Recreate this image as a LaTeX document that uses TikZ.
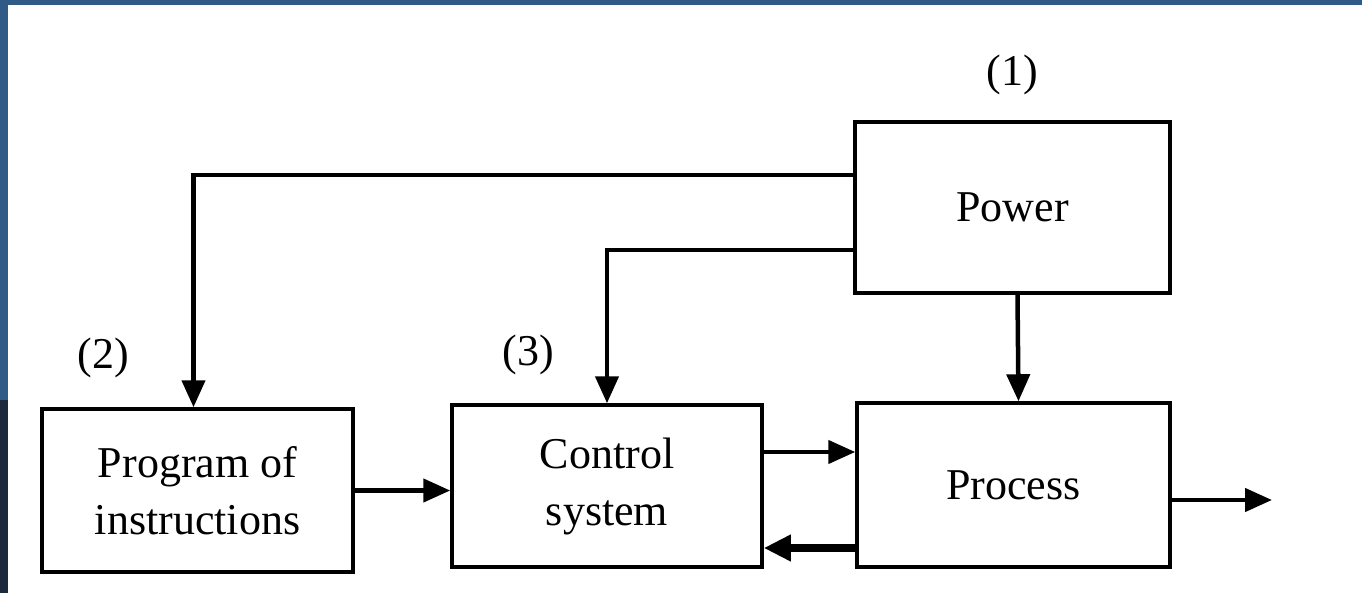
\documentclass[tikz,border=0pt]{standalone}
\usepackage{fontspec}
\setmainfont{Liberation Serif}
\usetikzlibrary{arrows.meta}
\definecolor{frameblue}{HTML}{2F5B86}
\definecolor{framedark}{HTML}{1B2B3D}
\begin{document}
\begin{tikzpicture}[x=1pt,y=-1pt,
  box/.style={draw=black,line width=3.5pt,minimum width=#1,inner sep=0pt,align=center,
    font=\fontsize{44}{57}\selectfont},
  lbl/.style={font=\fontsize{44}{57}\selectfont,inner sep=0pt},
  arr/.style={line width=4.5pt,-{Triangle[length=27pt,width=23pt]}},
  thickarr/.style={line width=8pt,-{Triangle[length=27pt,width=25pt]}}]
\useasboundingbox (0,0) rectangle (1362,593);
\fill[white] (0,0) rectangle (1362,593);
% frame bands
\fill[frameblue] (0,0) rectangle (1362,5);
\fill[frameblue] (0,0) rectangle (8,400);
\fill[framedark] (0,400) rectangle (8,593);
% boxes
\node[box=315pt,minimum height=171pt] (pow) at (1012.5,207.5) {Power};
\node[box=311pt,minimum height=163pt] (prog) at (197.5,490.5) {Program of\\instructions};
\node[box=310pt,minimum height=162pt] (ctrl) at (607,486) {Control\\system};
\node[box=313pt,minimum height=164pt] (proc) at (1013.5,485) {Process};
% labels
\node[lbl] (l1) at (1012,75) {(1)};
\node[lbl] (l2) at (103,358) {(2)};
\node[lbl] (l3) at (528,355) {(3)};
% connectors
\draw[arr] ([yshift=32.5pt]pow.west) -| ([xshift=-4pt]prog.north);
\draw[arr] ([yshift=-42.5pt]pow.west) -| (ctrl.north);
\draw[arr] ([xshift=5pt]pow.south) -- ([xshift=5pt]proc.north);
\draw[arr] (prog.east) -- (prog.east -| ctrl.west);
\draw[arr] ([yshift=34pt]ctrl.east) -- ([yshift=34pt]ctrl.east -| proc.west);
\draw[thickarr] ([yshift=-63pt]proc.west) -- ([yshift=-63pt]proc.west -| ctrl.east);
\coordinate (out) at (1272,500);
\draw[arr] (proc.east |- out) -- (out);
\end{tikzpicture}
\end{document}
